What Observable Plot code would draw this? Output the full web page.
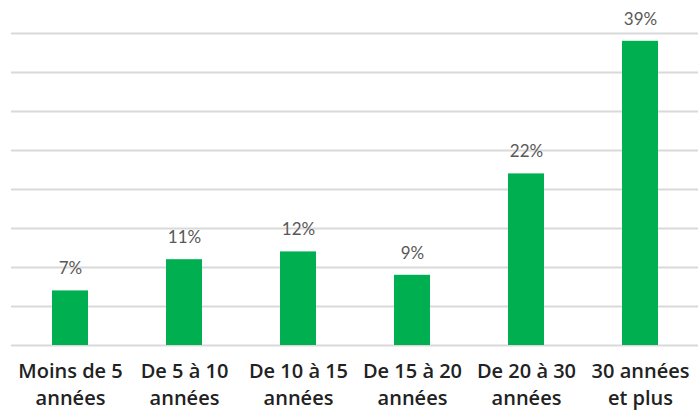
<!DOCTYPE html>
<html>
<head>
<meta charset="utf-8">
<script src="https://cdn.jsdelivr.net/npm/d3@7"></script>
<script src="https://cdn.jsdelivr.net/npm/@observablehq/plot@0.6"></script>
<style>
  html, body { margin: 0; padding: 0; background: #fff; }
  #chart svg { display: block; }
</style>
</head>
<body>
<div id="chart"></div>
<script>
const categories = [
  "Moins de 5\nannées",
  "De 5 à 10\nannées",
  "De 10 à 15\nannées",
  "De 15 à 20\nannées",
  "De 20 à 30\nannées",
  "30 années\net plus"
];
const values = [7, 11, 12, 9, 22, 39];
const valueLabels = ["7%", "11%", "12%", "9%", "22%", "39%"];
const gridTicks = [0, 5, 10, 15, 20, 25, 30, 35, 40];

const data = categories.map((c, i) => ({cat: c, v: values[i], label: valueLabels[i]}));

const chart = Plot.plot({
  width: 700,
  height: 415,
  marginTop: 33,
  marginBottom: 70,
  marginLeft: 11,
  marginRight: 2,
  style: {fontFamily: "Lato, 'Open Sans', sans-serif", background: "#fff"},
  x: {domain: categories, paddingInner: 0.686, paddingOuter: 0.343, align: 0.5},
  y: {domain: [0, 40], axis: null},
  marks: [
    Plot.ruleY(gridTicks, {stroke: "#d9d9d9", strokeWidth: 2}),
    Plot.barY(data, {x: "cat", y: "v", fill: "#00b050"}),
    Plot.text(data, {x: "cat", y: "v", text: "label", dy: -22, lineAnchor: "middle",
      fill: "#595959", fontSize: 17}),
    Plot.axisX({tickSize: 0, tickPadding: 13, fontSize: 20, fontWeight: 600,
      fontFamily: "'Open Sans', sans-serif",
      lineHeight: 1.35, lineAnchor: "top", fill: "#222", label: null, tickFormat: d => d})
  ]
});
document.getElementById("chart").appendChild(chart);
</script>
</body>
</html>
